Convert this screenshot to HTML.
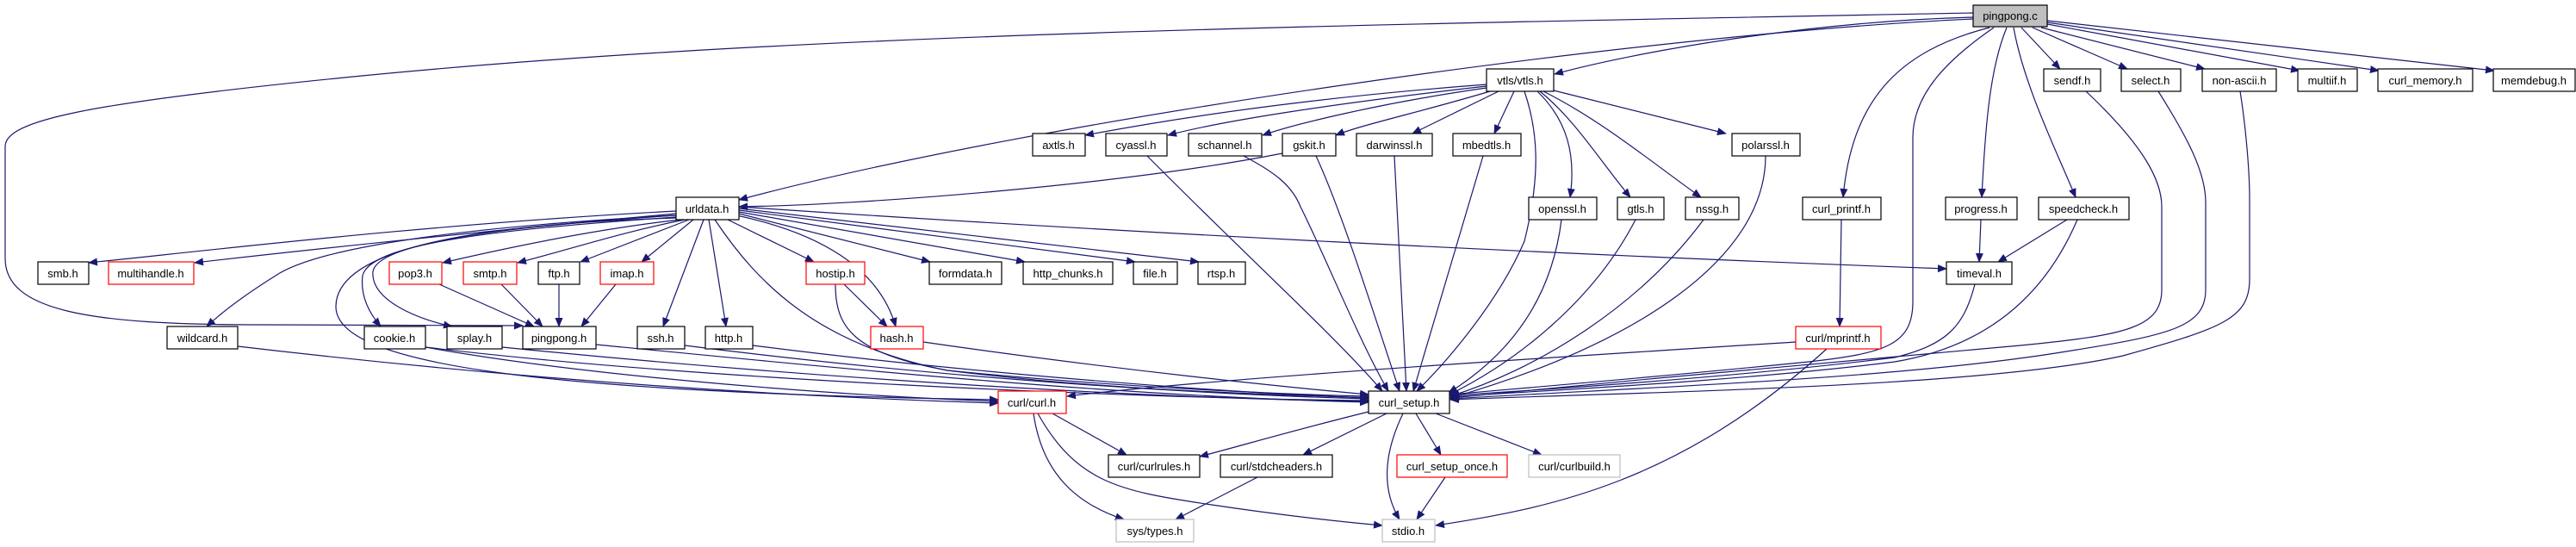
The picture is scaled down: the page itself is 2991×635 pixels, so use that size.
<!DOCTYPE html>
<html><head><meta charset="utf-8"><style>
html,body{margin:0;padding:0;background:#fff;}
svg{display:block;}
text{font-family:"Liberation Sans",Arial,sans-serif;font-size:13px;fill:#000;}
</style></head><body>
<svg width="2991" height="635" viewBox="0 0 2991 635" xmlns="http://www.w3.org/2000/svg">
<defs><marker id="a" markerUnits="userSpaceOnUse" markerWidth="11" markerHeight="9" refX="10" refY="4.5" orient="auto"><path d="M0,0 L11,4.5 L0,9 z" fill="#191970"/></marker></defs>
<g fill="none" stroke="#191970" stroke-width="1.2" marker-end="url(#a)">
<path d="M2291,20 C2100,25 1900,60 1805,86"/>
<path d="M2291,22 C1900,40 1200,140 858,232"/>
<path d="M2291,15 C1500,30 900,40 400,90 C100,120 6,140 6,170 L6,300 C6,360 100,377 300,377 L607,378"/>
<path d="M2310,32 C2200,60 2150,120 2140,229"/>
<path d="M2330,32 C2310,80 2305,150 2301,229"/>
<path d="M2338,32 C2350,100 2390,180 2410,229"/>
<path d="M2347,32 L2392,80"/>
<path d="M2360,32 L2470,80"/>
<path d="M2370,32 L2560,80"/>
<path d="M2377,28 L2670,82"/>
<path d="M2377,26 L2762,82"/>
<path d="M2377,24 L2896,82"/>
<path d="M2315,32 C2260,70 2221,110 2221,160 L2221,350 C2221,400 2190,410 2100,420 C1900,440 1750,452 1684,458"/>
<path d="M1726,98 C1500,115 1350,140 1260,157"/>
<path d="M1726,100 C1550,120 1420,140 1356,157"/>
<path d="M1726,102 C1600,120 1500,145 1466,157"/>
<path d="M1730,106 C1650,130 1580,145 1551,157"/>
<path d="M1740,106 L1640,155"/>
<path d="M1758,106 L1735,155"/>
<path d="M1785,106 C1820,140 1830,180 1823,229"/>
<path d="M1788,106 C1830,140 1860,190 1893,229"/>
<path d="M1792,106 C1860,140 1920,190 1975,229"/>
<path d="M1804,105 L2004,155"/>
<path d="M1770,106 C1785,150 1790,200 1770,280 C1740,350 1680,420 1645,454"/>
<path d="M1489,178 C1300,215 1000,238 858,240"/>
<path d="M785,245 C500,260 250,290 103,305"/>
<path d="M785,248 C600,265 400,285 226,305"/>
<path d="M790,255 C700,265 600,285 514,305"/>
<path d="M795,255 C720,270 660,290 601,305"/>
<path d="M800,255 L674,304"/>
<path d="M805,255 L745,304"/>
<path d="M785,250 C600,260 380,280 320,320 C280,345 255,365 240,379"/>
<path d="M785,252 C600,265 430,280 421,320 C418,345 430,365 442,379"/>
<path d="M785,250 C600,262 440,280 433,315 C430,350 490,372 525,379"/>
<path d="M817,255 L770,379"/>
<path d="M823,255 L843,379"/>
<path d="M845,255 L945,304"/>
<path d="M855,250 C950,270 1020,310 1040,379"/>
<path d="M858,248 L1080,304"/>
<path d="M858,246 L1190,304"/>
<path d="M858,244 L1318,304"/>
<path d="M858,242 L1392,304"/>
<path d="M858,240 C1300,270 1800,295 2260,312"/>
<path d="M830,255 C880,330 950,400 1100,430 C1300,455 1500,458 1589,462"/>
<path d="M785,253 C500,262 390,300 390,356 C390,420 600,455 1159,464"/>
<path d="M510,330 L620,379"/>
<path d="M582,330 L630,379"/>
<path d="M649,330 L649,379"/>
<path d="M715,330 L675,379"/>
<path d="M980,330 L1030,379"/>
<path d="M970,330 C970,380 990,410 1100,430 C1300,450 1500,458 1589,460"/>
<path d="M1072,397 C1300,430 1500,450 1589,458"/>
<path d="M874,401 C1100,430 1400,455 1589,462"/>
<path d="M795,401 C1100,440 1400,458 1589,463"/>
<path d="M494,403 C800,440 1300,462 1589,465"/>
<path d="M494,403 C700,440 1000,460 1159,466"/>
<path d="M583,403 C900,435 1300,462 1589,466"/>
<path d="M692,400 C1000,430 1300,460 1589,467"/>
<path d="M276,402 C600,440 900,460 1159,468"/>
<path d="M1332,181 C1450,300 1550,390 1605,454"/>
<path d="M1444,181 C1480,200 1500,215 1510,240 C1540,300 1580,400 1612,454"/>
<path d="M1528,181 C1560,250 1600,380 1625,454"/>
<path d="M1619,181 L1633,454"/>
<path d="M1722,181 L1641,454"/>
<path d="M1813,255 C1800,360 1740,420 1682,456"/>
<path d="M1899,255 C1850,350 1760,420 1683,458"/>
<path d="M1978,255 C1900,360 1780,430 1684,460"/>
<path d="M2050,181 C2050,300 1900,400 1684,462"/>
<path d="M2138,255 L2136,379"/>
<path d="M2085,397 C1800,415 1400,440 1239,460"/>
<path d="M2121,405 C1950,560 1800,590 1667,610"/>
<path d="M2293,330 C2280,380 2260,400 2200,415 C2000,440 1750,455 1684,459"/>
<path d="M2400,255 L2320,304"/>
<path d="M2412,255 C2380,330 2320,400 2200,420 C2000,445 1750,455 1684,461"/>
<path d="M2300,255 L2298,304"/>
<path d="M2422,106 C2490,170 2510,210 2510,240 L2510,336 C2510,380 2470,389 2346,401 C2200,415 1900,440 1684,462"/>
<path d="M2506,106 C2540,160 2561,200 2561,235 L2561,336 C2561,380 2520,389 2393,409 C2200,440 1900,450 1684,463"/>
<path d="M2601,106 C2608,150 2612,200 2612,231 L2612,324 C2612,370 2580,381 2465,413 C2300,450 1900,455 1684,464"/>
<path d="M1589,478 C1500,500 1450,515 1393,530"/>
<path d="M1610,480 L1513,528"/>
<path d="M1644,480 L1673,528"/>
<path d="M1667,480 L1790,528"/>
<path d="M1629,480 C1605,530 1605,570 1625,603"/>
<path d="M1222,480 L1308,528"/>
<path d="M1200,480 C1210,550 1250,585 1305,603"/>
<path d="M1205,480 C1250,560 1300,570 1400,585 C1500,600 1560,606 1605,610"/>
<path d="M1460,554 L1365,603"/>
<path d="M1678,554 L1645,603"/>
</g>
<g stroke-width="1.2">
<g fill="#fff" stroke="#000">
<rect x="2291" y="6" width="86" height="25" fill="#bfbfbf"/>
<rect x="1726" y="80" width="78" height="26"/>
<rect x="2373" y="80" width="66" height="26"/>
<rect x="2463" y="80" width="69" height="26"/>
<rect x="2557" y="80" width="86" height="26"/>
<rect x="2668" y="80" width="69" height="26"/>
<rect x="2761" y="80" width="110" height="26"/>
<rect x="2895" y="80" width="95" height="26"/>
<rect x="1199" y="155" width="61" height="26"/>
<rect x="1284" y="155" width="71" height="26"/>
<rect x="1380" y="155" width="85" height="26"/>
<rect x="1489" y="155" width="62" height="26"/>
<rect x="1575" y="155" width="88" height="26"/>
<rect x="1687" y="155" width="79" height="26"/>
<rect x="2011" y="155" width="79" height="26"/>
<rect x="785" y="229" width="73" height="26"/>
<rect x="1775" y="229" width="79" height="26"/>
<rect x="1878" y="229" width="54" height="26"/>
<rect x="1957" y="229" width="62" height="26"/>
<rect x="2093" y="229" width="91" height="26"/>
<rect x="2259" y="229" width="83" height="26"/>
<rect x="2367" y="229" width="105" height="26"/>
<rect x="44" y="304" width="59" height="26"/>
<rect x="625" y="304" width="48" height="26"/>
<rect x="1079" y="304" width="84" height="26"/>
<rect x="1188" y="304" width="104" height="26"/>
<rect x="1316" y="304" width="51" height="26"/>
<rect x="1391" y="304" width="55" height="26"/>
<rect x="2260" y="304" width="76" height="26"/>
<rect x="194" y="379" width="82" height="26"/>
<rect x="423" y="379" width="71" height="26"/>
<rect x="519" y="379" width="64" height="26"/>
<rect x="607" y="379" width="85" height="26"/>
<rect x="740" y="379" width="55" height="26"/>
<rect x="819" y="379" width="55" height="26"/>
<rect x="1589" y="454" width="94" height="26"/>
<rect x="1287" y="528" width="106" height="26"/>
<rect x="1417" y="528" width="130" height="26"/>
</g>
<g fill="#fff" stroke="#ff0000">
<rect x="126" y="304" width="99" height="26"/>
<rect x="452" y="304" width="61" height="26"/>
<rect x="538" y="304" width="62" height="26"/>
<rect x="697" y="304" width="62" height="26"/>
<rect x="936" y="304" width="68" height="26"/>
<rect x="1011" y="379" width="61" height="26"/>
<rect x="2085" y="379" width="99" height="26"/>
<rect x="1159" y="454" width="79" height="26"/>
<rect x="1622" y="528" width="128" height="26"/>
</g>
<g fill="#fff" stroke="#bfbfbf">
<rect x="1775" y="528" width="106" height="26"/>
<rect x="1296" y="603" width="90" height="26"/>
<rect x="1605" y="603" width="61" height="26"/>
</g>
</g>
<g text-anchor="middle">
<text x="2334" y="23">pingpong.c</text>
<text x="1765" y="98">vtls/vtls.h</text>
<text x="2406" y="98">sendf.h</text>
<text x="2497" y="98">select.h</text>
<text x="2600" y="98">non-ascii.h</text>
<text x="2702" y="98">multiif.h</text>
<text x="2816" y="98">curl_memory.h</text>
<text x="2942" y="98">memdebug.h</text>
<text x="1229" y="173">axtls.h</text>
<text x="1319" y="173">cyassl.h</text>
<text x="1422" y="173">schannel.h</text>
<text x="1520" y="173">gskit.h</text>
<text x="1619" y="173">darwinssl.h</text>
<text x="1726" y="173">mbedtls.h</text>
<text x="2050" y="173">polarssl.h</text>
<text x="821" y="247">urldata.h</text>
<text x="1814" y="247">openssl.h</text>
<text x="1905" y="247">gtls.h</text>
<text x="1988" y="247">nssg.h</text>
<text x="2138" y="247">curl_printf.h</text>
<text x="2300" y="247">progress.h</text>
<text x="2419" y="247">speedcheck.h</text>
<text x="73" y="322">smb.h</text>
<text x="175" y="322">multihandle.h</text>
<text x="482" y="322">pop3.h</text>
<text x="569" y="322">smtp.h</text>
<text x="649" y="322">ftp.h</text>
<text x="728" y="322">imap.h</text>
<text x="970" y="322">hostip.h</text>
<text x="1121" y="322">formdata.h</text>
<text x="1240" y="322">http_chunks.h</text>
<text x="1341" y="322">file.h</text>
<text x="1418" y="322">rtsp.h</text>
<text x="2298" y="322">timeval.h</text>
<text x="235" y="397">wildcard.h</text>
<text x="458" y="397">cookie.h</text>
<text x="551" y="397">splay.h</text>
<text x="649" y="397">pingpong.h</text>
<text x="767" y="397">ssh.h</text>
<text x="846" y="397">http.h</text>
<text x="1041" y="397">hash.h</text>
<text x="2134" y="397">curl/mprintf.h</text>
<text x="1198" y="472">curl/curl.h</text>
<text x="1636" y="472">curl_setup.h</text>
<text x="1340" y="546">curl/curlrules.h</text>
<text x="1482" y="546">curl/stdcheaders.h</text>
<text x="1686" y="546">curl_setup_once.h</text>
<text x="1828" y="546">curl/curlbuild.h</text>
<text x="1341" y="621">sys/types.h</text>
<text x="1635" y="621">stdio.h</text>
</g>
</svg>
</body></html>
